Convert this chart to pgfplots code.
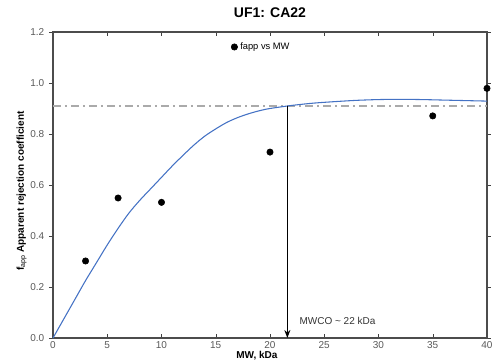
\documentclass[border=0pt]{standalone}
\usepackage{fontspec}
\setmainfont{Liberation Sans}
\usepackage{pgfplots}
\usetikzlibrary{arrows.meta}
\pgfplotsset{compat=1.18}
\definecolor{fitblue}{RGB}{68,114,196}
\definecolor{refgray}{RGB}{170,170,170}
\definecolor{tickgray}{RGB}{89,89,89}
\begin{document}
\begin{tikzpicture}
\begin{axis}[
  at={(0,0)}, anchor=south west,
  scale only axis, width=325.5pt, height=229.5pt,
  xmin=0, xmax=40, ymin=0, ymax=1.2,
  xtick={0,5,...,40}, ytick={0,0.2,...,1.2},
  xtick align=inside, ytick align=outside,
  tick style={draw=black!75, major tick length=3pt},
  axis line style={draw=black!70, line width=0.8pt},
  /pgf/number format/assume math mode=true,
  yticklabel style={/pgf/number format/fixed, /pgf/number format/fixed zerofill, /pgf/number format/precision=1},
  ticklabel style={font=\fontsize{7.5}{9}\selectfont, text=tickgray},
  xticklabel style={yshift=1pt},
  title={\bfseries UF1: CA22},
  title style={font=\fontsize{10.5}{12}\selectfont, at={(axis description cs:0.5,1)}, anchor=south, yshift=1pt},
  xlabel={\bfseries MW, kDa},
  xlabel style={font=\fontsize{7.5}{9}\selectfont, at={(axis description cs:0.47,0)}, anchor=base, inner sep=0pt, yshift=-15.6pt},
  ylabel={\bfseries f$_{\mathrm{app}}$ Apparent rejection coefficient},
  ylabel style={font=\fontsize{7.5}{9}\selectfont, at={(axis description cs:-0.05,0.48)}, anchor=south},
  clip=false,
  legend style={at={(axis description cs:0.41,0.951)}, anchor=west, draw=none, fill=none,
    font=\fontsize{7}{8}\selectfont, inner sep=0pt, row sep=0pt},
  legend cell align=left,
]
\addplot[only marks, mark=*, mark size=2.4pt, black] coordinates {
  (3,0.302) (6,0.549) (10,0.532) (20,0.729) (35,0.871) (40,0.979)
};
\addlegendentry{fapp vs MW}
\addplot[refgray, line width=0.9pt, dash pattern=on 6pt off 3pt on 1.5pt off 3pt, forget plot] coordinates {(0,0.91) (40,0.91)};
\addplot[fitblue, line width=0.8pt, smooth, forget plot] coordinates {
  (0,0) (1,0.075) (2,0.15) (3,0.225) (4,0.295) (5,0.365) (6,0.43) (7,0.49) (8,0.54)
  (9,0.585) (10,0.63) (11,0.675) (12,0.717) (13,0.757) (14,0.792) (15,0.82) (16,0.845)
  (17,0.864) (18,0.879) (19,0.891) (20,0.90) (22,0.912) (24,0.921) (26,0.927) (28,0.932)
  (30,0.935) (32,0.936) (34,0.935) (36,0.933) (38,0.931) (40,0.929)
};
\addplot[black, line width=1.1pt, -{Stealth[length=6pt,width=4.5pt]}, forget plot] coordinates {(21.6,0.91) (21.6,0)};
\node[anchor=west, font=\fontsize{7.5}{9}\selectfont, text=black!80, inner sep=0pt] at (axis cs:22.7,0.067) {MWCO \textasciitilde{} 22 kDa};
\end{axis}
\pgfresetboundingbox
\useasboundingbox (-39.75pt,-16.5pt) rectangle (333pt,253.5pt);
\end{tikzpicture}
\end{document}
